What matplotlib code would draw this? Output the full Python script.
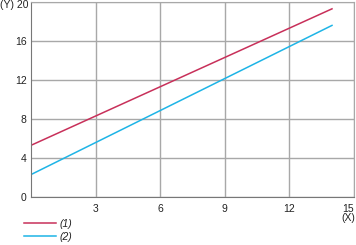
import matplotlib
matplotlib.use('Agg')
import matplotlib.pyplot as plt

plt.rcParams['font.family'] = ['Liberation Sans', 'DejaVu Sans']

# Two straight lines, read from endpoints
x_vals = [0, 14]
line1 = [5.3, 19.3]
line2 = [2.3, 17.6]
labels = ['(1)', '(2)']
x_ticks = [3, 6, 9, 12, 15]
x_tick_labels = ['3', '6', '9', '12', '15']
y_ticks = [0, 4, 8, 12, 16, 20]
y_tick_labels = ['0', '4', '8', '12', '16', '20']

fs = 7.5

fig = plt.figure(figsize=(3.56, 2.45), dpi=100)
ax = fig.add_axes([31 / 356, 1 - 197 / 245, 322.5 / 356, 195 / 245])

ax.plot(x_vals, line1, color='#C8305A', linewidth=1.1, label=labels[0])
ax.plot(x_vals, line2, color='#1EB4E6', linewidth=1.1, label=labels[1])

ax.set_xlim(0, 15)
ax.set_ylim(0, 20)
ax.set_xticks(x_ticks)
ax.set_xticklabels(x_tick_labels)
ax.set_yticks(y_ticks)
# top label is drawn with the "(Y)" unit below
ax.set_yticklabels(y_tick_labels[:-1] + [''])
ax.tick_params(length=0, labelsize=fs, colors='#222222')
ax.tick_params(axis='y', pad=3)
ax.tick_params(axis='x', pad=5)
ax.get_xticklabels()[-1].set_ha('right')
ax.grid(True, color='#A8A8A8', linewidth=1)

for side in ['top', 'right']:
    ax.spines[side].set_color('#A8A8A8')
for side in ['left', 'bottom']:
    ax.spines[side].set_color('#777777')

fig.text(28 / 356, 1 - 5.5 / 245, '(Y) ' + y_tick_labels[-1], fontsize=fs,
         va='center', ha='right', color='#222222')
fig.text(355 / 356, 1 - 217.5 / 245, '(X)', fontsize=fs, va='center', ha='right',
         color='#222222')

leg = ax.legend(loc='upper left', bbox_to_anchor=(24 / 356, 1 - 219 / 245),
                bbox_transform=fig.transFigure, frameon=False, fontsize=fs,
                handlelength=3.1, handletextpad=0.3, labelspacing=0.3,
                borderpad=0, borderaxespad=0)
for t in leg.get_texts():
    t.set_fontstyle('italic')
    t.set_color('#222222')

fig.savefig('out.png', dpi=100)
